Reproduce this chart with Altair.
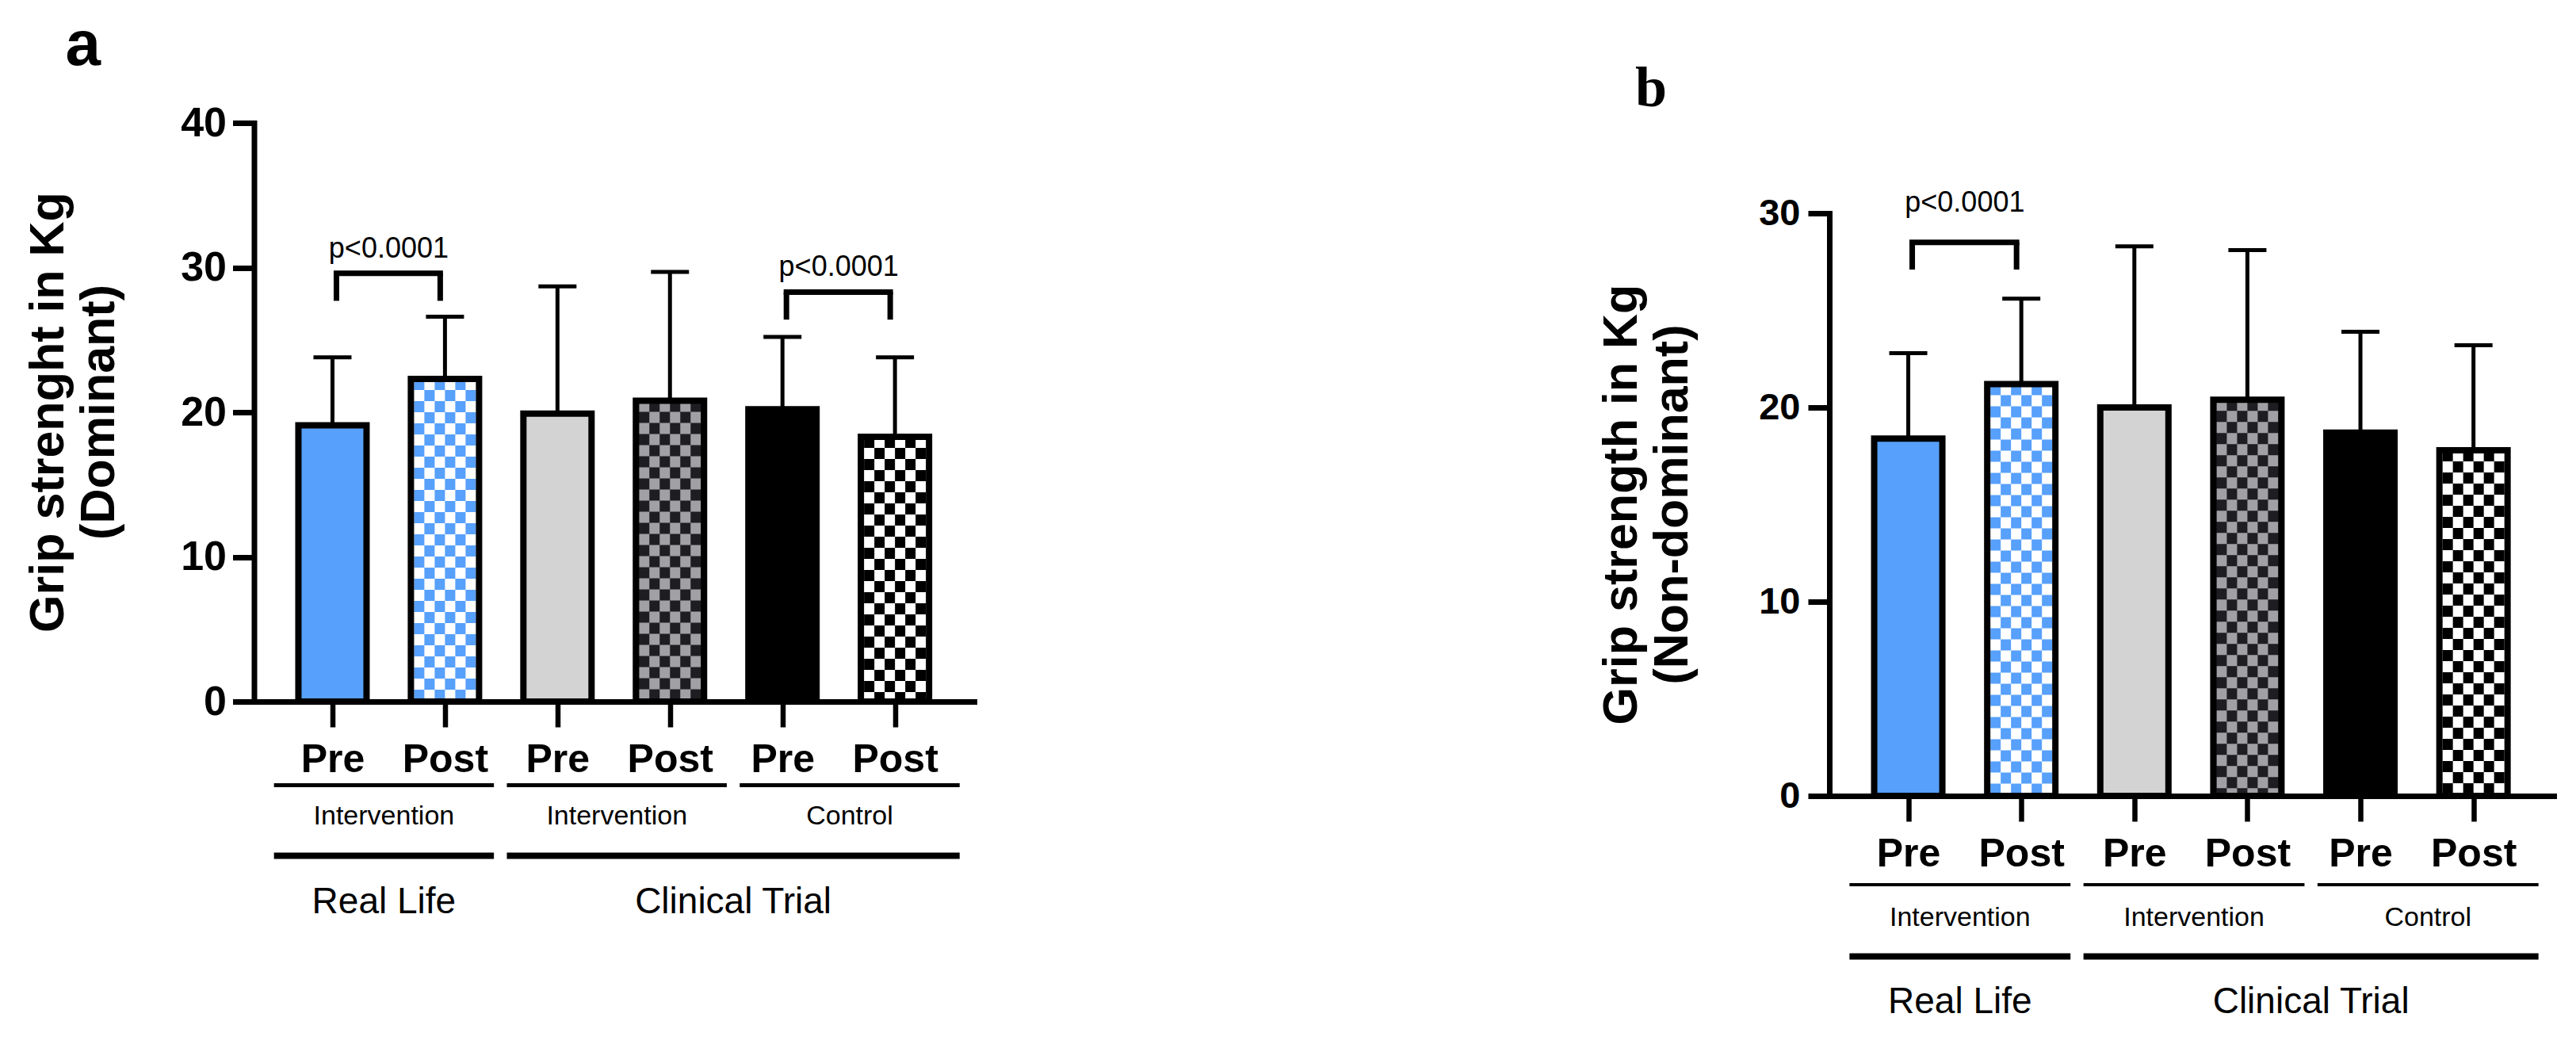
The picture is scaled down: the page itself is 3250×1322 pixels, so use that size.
import json
import altair as alt
import pandas as pd

# ---------------- data ----------------
conditions = ["Pre", "Post", "Pre", "Post", "Pre", "Post"]
bar_fill = ["#57A0FB", "#FFFFFF", "#D3D3D3", "#1E1E22", "#000000", "#FFFFFF"]
check_color = ["", "#57A0FB", "", "#A0A0A5", "", "#000000"]

dominant_mean = [19.1, 22.3, 19.9, 20.8, 20.2, 18.3]
dominant_upper = [23.8, 26.6, 28.7, 29.7, 25.2, 23.8]
nondominant_mean = [18.4, 21.2, 20.0, 20.4, 18.7, 17.8]
nondominant_upper = [22.8, 25.6, 28.3, 28.1, 23.9, 23.2]

dom_bracket_from = [0, 4]
dom_bracket_to = [1, 5]
dom_bracket_top = [29.6, 28.3]
dom_bracket_leg = [27.7, 26.4]
dom_bracket_text = [30.7, 29.4]

nondom_bracket_from = [0]
nondom_bracket_to = [1]
nondom_bracket_top = [28.5]
nondom_bracket_leg = [27.1]
nondom_bracket_text = [30.1]

p_label = "p<0.0001"

arm_names = ["Intervention", "Intervention", "Control"]
arm_first = [0, 2, 4]
arm_last = [1, 3, 5]
setting_names = ["Real Life", "Clinical Trial"]
setting_first = [0, 2]
setting_last = [1, 5]

dom_title = ["Grip strenght in Kg", "(Dominant)"]
nondom_title = ["Grip strength in Kg", "(Non-dominant)"]
dom_ticks = [0, 10, 20, 30, 40]
nondom_ticks = [0, 10, 20, 30]

SANS = "Liberation Sans, Arial, sans-serif"
SERIF = "Liberation Serif, Times New Roman, serif"


def panel(mean, upper, b_from, b_to, b_top, b_leg, b_text, titles, ticks, cfg):
    bars = pd.DataFrame({"idx": list(range(len(conditions))), "cond": conditions,
                         "mean": mean, "upper": upper, "fill": bar_fill, "check": check_color})
    br = pd.DataFrame({"a": b_from, "b": b_to, "top": b_top, "leg": b_leg,
                       "ty": b_text, "label": [p_label] * len(b_from)})
    arms = pd.DataFrame({"name": arm_names, "first": arm_first, "last": arm_last})
    sets = pd.DataFrame({"name": setting_names, "first": setting_first, "last": setting_last})

    W, H = cfg["W"], cfg["H"]
    xs = alt.Scale(domain=cfg["xdom"], nice=False, zero=False)
    ykw = dict(domain=cfg["ydom"], nice=False, zero=False)
    if cfg.get("yrange"):
        ykw["range"] = cfg["yrange"]
    ys = alt.Scale(**ykw)

    label_expr = json.dumps(conditions) + "[datum.value]"
    xaxis = alt.Axis(values=list(range(len(conditions))), labelExpr=label_expr, title=None,
                     domainColor="black", domainWidth=7,
                     tickColor="black", tickWidth=6.5, tickSize=32,
                     labelFont=SANS, labelFontWeight="bold", labelFontSize=50,
                     labelColor="black", labelPadding=16, labelAngle=0,
                     labelBaseline="top", labelFlush=False, labelOverlap=False,
                     grid=False, zindex=1)
    yaxis = alt.Axis(values=ticks, title=None, domainColor="black", domainWidth=7,
                     domainCap="square", tickColor="black", tickWidth=7, tickSize=27,
                     labelFont=SANS, labelFontWeight="bold", labelFontSize=cfg["ylab"],
                     labelColor="black", labelPadding=cfg["ypad"], labelFlush=False,
                     labelOverlap=False, grid=False, zindex=1)

    def X(f):
        return alt.X(f"{f}:Q", scale=xs, axis=xaxis)

    def Y(f):
        return alt.Y(f"{f}:Q", scale=ys, axis=yaxis)

    layers = []
    layers.append(alt.Chart(bars).mark_bar(orient="vertical", size=86, strokeWidth=0).encode(
        x=X("idx"), y=Y("mean"), color=alt.Color("fill:N", scale=None)))
    for k in range(6):
        layers.append(
            alt.Chart(bars).transform_filter("datum.check != ''").transform_calculate(zero="0")
            .mark_rule(strokeWidth=13, strokeDash=[14, 14], strokeDashOffset=14 * (k % 2),
                       xOffset=-32.5 + 13 * k)
            .encode(x=X("idx"), y=Y("mean"), y2=alt.Y2("zero:Q"),
                    color=alt.Color("check:N", scale=None)))
    layers.append(alt.Chart(bars).mark_bar(orient="vertical", size=86, fillOpacity=0,
                                           stroke="black", strokeWidth=8, strokeJoin="miter")
                  .encode(x=X("idx"), y=Y("mean")))
    layers.append(alt.Chart(bars).mark_rule(color="black", strokeWidth=5).encode(
        x=X("idx"), y=Y("mean"), y2=alt.Y2("upper:Q")))
    layers.append(alt.Chart(bars).mark_rule(color="black", strokeWidth=5, xOffset=-24, x2Offset=24)
                  .encode(x=X("idx"), x2=alt.X2("idx:Q"), y=Y("upper")))

    # significance brackets
    layers.append(alt.Chart(br).mark_rule(color="black", strokeWidth=7, strokeCap="square",
                                          xOffset=5, x2Offset=-6)
                  .encode(x=X("a"), x2=alt.X2("b:Q"), y=Y("top")))
    layers.append(alt.Chart(br).mark_rule(color="black", strokeWidth=7, xOffset=5)
                  .encode(x=X("a"), y=Y("top"), y2=alt.Y2("leg:Q")))
    layers.append(alt.Chart(br).mark_rule(color="black", strokeWidth=7, xOffset=-6)
                  .encode(x=X("b"), y=Y("top"), y2=alt.Y2("leg:Q")))
    layers.append(alt.Chart(br).transform_calculate(mid="(datum.a + datum.b) / 2")
                  .mark_text(font=SANS, fontSize=36, align="center", baseline="alphabetic",
                             color="black")
                  .encode(x=X("mid"), y=Y("ty"), text="label:N"))

    # group rows under the x axis
    span = dict(start="1.035 * datum.first - 0.52", end="1.035 * datum.last + 0.40")
    layers.append(alt.Chart(arms).transform_calculate(**span)
                  .mark_rule(color="black", strokeWidth=cfg["l1w"])
                  .encode(x=X("start"), x2=alt.X2("end:Q"), y=alt.value(H + cfg["l1"])))
    layers.append(alt.Chart(arms).transform_calculate(**span)
                  .transform_calculate(mid="(datum.start + datum.end) / 2")
                  .mark_text(font=SANS, fontSize=34, align="center", baseline="alphabetic",
                             color="black")
                  .encode(x=X("mid"), y=alt.value(H + cfg["t1"]), text="name:N"))
    layers.append(alt.Chart(sets).transform_calculate(**span)
                  .mark_rule(color="black", strokeWidth=8)
                  .encode(x=X("start"), x2=alt.X2("end:Q"), y=alt.value(H + cfg["l2"])))
    layers.append(alt.Chart(sets).transform_calculate(**span)
                  .transform_calculate(mid="(datum.start + datum.end) / 2")
                  .mark_text(font=SANS, fontSize=46, align="center", baseline="alphabetic",
                             color="black")
                  .encode(x=X("mid"), y=alt.value(H + cfg["t2"]), text="name:N"))

    # y titles (two lines)
    for line, xpos in zip(titles, cfg["title_x"]):
        layers.append(alt.Chart(pd.DataFrame({"t": [line]}))
                      .mark_text(angle=270, font=SANS, fontWeight="bold", fontSize=61,
                                 align="center", baseline="middle", color="black")
                      .encode(x=alt.value(xpos), y=alt.value(cfg["title_y"]), text="t:N"))
    # panel letter
    layers.append(alt.Chart(pd.DataFrame({"t": [cfg["letter"]]}))
                  .mark_text(font=cfg["letter_font"], fontWeight="bold", fontSize=cfg["letter_size"],
                             align="left", baseline="alphabetic", color="black")
                  .encode(x=alt.value(cfg["letter_x"]), y=alt.value(cfg["letter_y"]), text="t:N"))

    return alt.layer(*layers).properties(width=W, height=H)


cfg_a = dict(W=912, H=730, xdom=[-0.662, 5.693], ydom=[0, 40], ylab=52, ypad=8,
             l1=105.5, l1w=5, t1=155, l2=194.5, t2=267,
             title_x=[-259, -195], title_y=365,
             letter="a", letter_font=SANS, letter_size=80, letter_x=-238, letter_y=-73)
cfg_b = dict(W=917.5, H=849, xdom=[-0.663, 5.700], ydom=[0, 30], yrange=[849, 114],
             ylab=47, ypad=10,
             l1=112, l1w=4, t1=164, l2=202.5, t2=273.5,
             title_x=[-261.5, -197.5], title_y=481.5,
             letter="b", letter_font=SERIF, letter_size=72, letter_x=-245, letter_y=-21.5)

panel_a = panel(dominant_mean, dominant_upper, dom_bracket_from, dom_bracket_to,
                dom_bracket_top, dom_bracket_leg, dom_bracket_text, dom_title, dom_ticks, cfg_a)
panel_b = panel(nondominant_mean, nondominant_upper, nondom_bracket_from, nondom_bracket_to,
                nondom_bracket_top, nondom_bracket_leg, nondom_bracket_text, nondom_title,
                nondom_ticks, cfg_b)

chart = (alt.hconcat(panel_a, panel_b, spacing=1075.5, bounds="flush")
         .properties(padding={"left": 22.5, "top": 10, "right": 10, "bottom": 10},
                     background="white")
         .configure_view(strokeWidth=0))

chart.save("out.html", embed_options={"renderer": "svg", "actions": False})
